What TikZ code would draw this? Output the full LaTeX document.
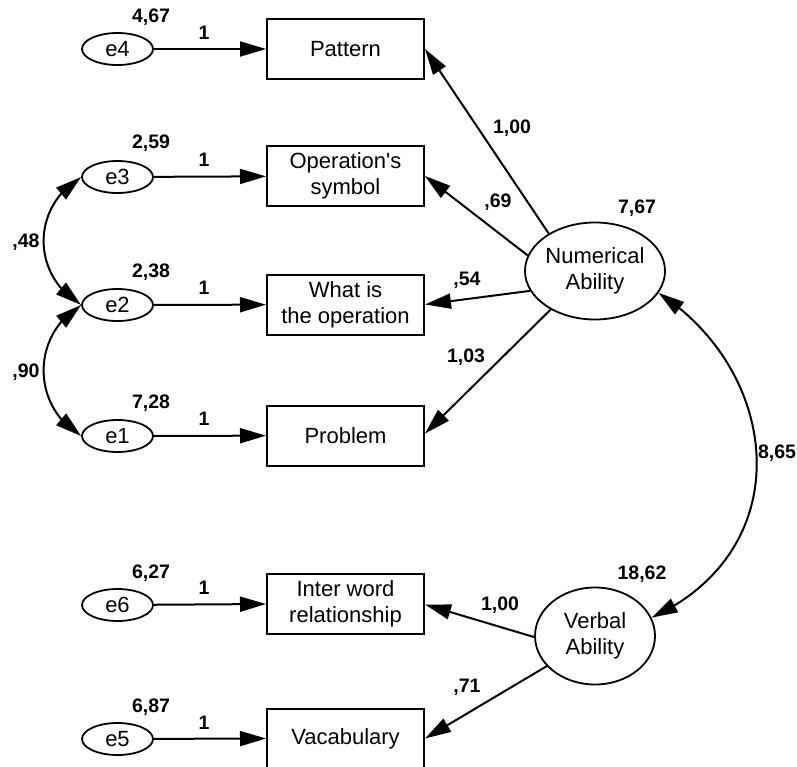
\documentclass[tikz,border=0pt]{standalone}
\usepackage{fontspec}
\setmainfont{Liberation Sans}[Ligatures=TeXOff]
\usetikzlibrary{arrows.meta,shapes.geometric,bending}
\newcommand{\labf}{\fontsize{22}{26}\selectfont}
\newcommand{\numf}{\fontsize{19.5}{22}\selectfont\bfseries}
\tikzset{
  obs/.style={draw, line width=2pt, minimum width=157pt, minimum height=60pt, inner sep=0pt, align=center, font=\labf},
  err/.style={ellipse, draw, line width=1.8pt, minimum width=71pt, minimum height=32pt, inner sep=0pt, font=\labf},
  lat/.style={ellipse, draw, line width=1.8pt, minimum width=120pt, minimum height=97pt, inner sep=0pt, align=center, font=\labf},
  num/.style={font=\numf, inner sep=0pt},
  pth/.style={line width=2pt, -{Triangle[length=26pt,width=15pt]}},
  cov/.style={line width=2pt, {Triangle[length=26pt,width=15pt]}-{Triangle[length=26pt,width=15pt]}}
}
\begin{document}
\begin{tikzpicture}[x=1pt,y=-1pt]
\useasboundingbox (0,0) rectangle (797,767);
% error terms
\node[err] (e4) at (117.5,49) {e4};
\node[err] (e3) at (117.5,177) {e3};
\node[err] (e2) at (117.5,305) {e2};
\node[err] (e1) at (117.5,436) {e1};
\node[err] (e6) at (117.5,605) {e6};
\node[err] (e5) at (117.5,739) {e5};
% observed
\node[obs] (pat) at (345.5,49) {Pattern};
\node[obs] (ops) at (345.5,176) {Operation's\\symbol};
\node[obs] (wio) at (345.5,304.5) {What is\\the operation};
\node[obs] (prb) at (345.5,435.5) {Problem};
\node[obs] (iwr) at (345.5,603.5) {Inter word\\relationship};
\node[obs] (voc) at (345.5,738.5) {Vacabulary};
% latent
\node[lat] (na) at (595,271) {Numerical\\Ability};
\node[lat] (va) at (595,636) {Verbal\\Ability};
% error paths
\draw[pth] (e4) -- (pat);
\draw[pth] (e3) -- (ops);
\draw[pth] (e2) -- (wio);
\draw[pth] (e1) -- (prb);
\draw[pth] (e6) -- (iwr);
\draw[pth] (e5) -- (voc.west);
% loadings
\draw[pth] (na.141) -- (pat.east);
\draw[pth] (na.167) -- (ops.east);
\draw[pth] (na.197) -- (wio.east);
\draw[pth] (na.221) -- ([yshift=2pt]prb.east);
\draw[pth] (va.181) -- ([yshift=-1pt]iwr.east);
\draw[pth] (va.212) -- (voc.east);
% covariances
\draw[cov] (e3.west) .. controls +(-50,30) and +(-50,-30) .. (e2.west);
\draw[cov] (e2.west) .. controls +(-50,30) and +(-50,-30) .. (e1.west);
\draw[cov] (na.341.6) .. controls +(123,80) and +(148,-68) .. (va.18);
% numbers
\node[num] (n467) at (151,17) {4,67};
\node[num] (n259) at (151,143) {2,59};
\node[num] (n238) at (151,272) {2,38};
\node[num] (n728) at (151,403) {7,28};
\node[num] (n627) at (151,573) {6,27};
\node[num] (n687) at (151,707) {6,87};
\node[num] (w4) at (204,33) {1};
\node[num] (w3) at (204,160) {1};
\node[num] (w2) at (204,288) {1};
\node[num] (w1) at (204,419) {1};
\node[num] (w6) at (204,588) {1};
\node[num] (w5) at (204,723) {1};
\node[num] (c48) at (26,242) {,48};
\node[num] (c90) at (26,372) {,90};
\node[num] (l100a) at (512,128) {1,00};
\node[num] (l69) at (498,202) {,69};
\node[num] (l54) at (467,280) {,54};
\node[num] (l103) at (466,357) {1,03};
\node[num] (v767) at (637,208) {7,67};
\node[num] (c865) at (777,453) {8,65};
\node[num] (v1862) at (642,574) {18,62};
\node[num] (l100b) at (500,605) {1,00};
\node[num] (l71) at (467,687) {,71};
\end{tikzpicture}
\end{document}
